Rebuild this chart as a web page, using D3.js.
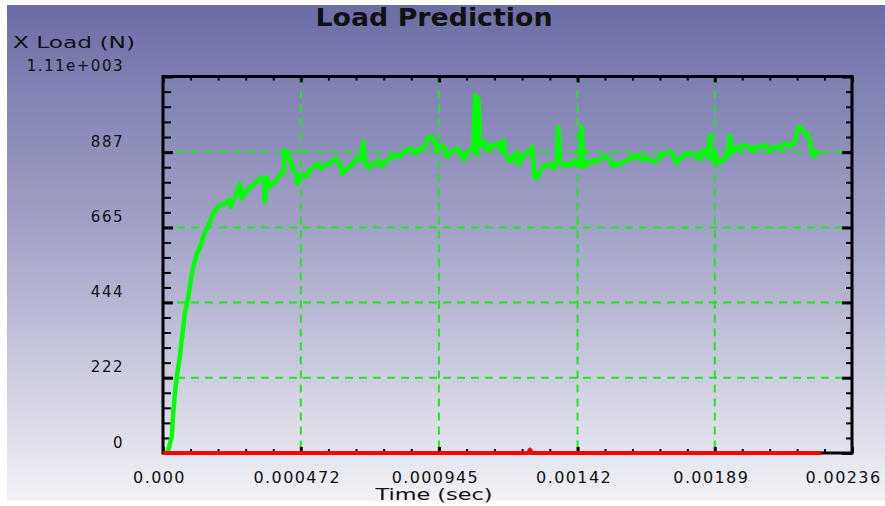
<!DOCTYPE html>
<html lang="en">
  <head>
    <meta charset="UTF-8" />
    <title>Load Prediction</title>
    <script src="https://d3js.org/d3.v7.min.js"></script>
    <style>
      body { margin: 0; background: #fff; }
      svg { display: block; }
      text { font-family: "DejaVu Sans", sans-serif; fill: #111; }
    </style>
  </head>
  <body>
    <svg id="chart" width="885" height="506"></svg>
    <script>
      // axis ticks
      const timeTicks = [0, 0.000472, 0.000945, 0.00142, 0.00189, 0.00236];
      const timeTickLabels = ["0.000", "0.000472", "0.000945", "0.00142", "0.00189", "0.00236"];
      const loadTicks = [0, 222, 444, 665, 887, 1110];
      const loadTickLabels = ["0", "222", "444", "665", "887", "1.11e+003"];

      // green series, time in microseconds, load in N
      const greenTimeUs = [15,30,35,41,47,58,64,75,87,95,104,115,127,138,150,161,172,184,195,212,224,232,241,252,264,270,281,292,304,315,326,338,346,349,355,366,384,401,414,416,429,441,452,460,469,481,492,503,521,532,544,555,572,583,595,606,615,629,640,652,663,675,686,692,703,715,726,737,749,760,777,795,812,823,835,852,863,874,886,897,909,920,932,939,949,966,972,983,1000,1011,1023,1031,1040,1051,1063,1069,1074,1080,1086,1103,1114,1126,1137,1148,1160,1166,1171,1188,1200,1211,1217,1229,1246,1257,1265,1272,1280,1291,1303,1314,1325,1337,1348,1354,1360,1377,1388,1400,1411,1428,1434,1440,1457,1474,1485,1503,1514,1531,1542,1554,1565,1577,1594,1605,1617,1628,1640,1657,1668,1679,1691,1702,1719,1736,1748,1759,1771,1788,1805,1822,1839,1851,1868,1873,1879,1891,1902,1919,1931,1942,1948,1965,1976,1988,2005,2016,2028,2045,2062,2079,2096,2113,2130,2147,2165,2176,2188,2199,2210,2216,2222,2230,2239,2250];
      const greenLoad = [0,48,117,176,225,284,333,412,461,510,549,584,608,638,662,682,707,721,731,736,746,726,746,766,795,751,766,780,785,795,805,813,800,741,810,785,800,820,829,893,878,849,829,795,815,824,815,834,844,854,839,849,854,864,867,849,824,839,844,854,869,864,918,859,839,849,854,864,844,859,869,878,874,888,893,898,883,893,898,903,932,932,918,893,908,898,874,883,893,898,878,864,883,893,903,1055,878,1045,903,918,893,908,903,913,893,923,883,859,874,888,849,869,888,883,903,815,810,829,844,849,854,839,854,962,859,844,854,849,864,844,962,844,854,864,859,869,874,864,844,854,849,859,864,874,869,878,864,874,864,859,864,874,883,888,878,854,869,878,883,878,864,893,874,937,864,883,854,864,874,937,883,903,898,908,903,893,903,898,908,893,903,898,913,903,918,962,957,942,937,913,893,874,888,888];

      // red series
      const redTimeUs = [0, 1250, 1257, 1264, 2255];
      const redLoad = [0, 0, 10, 0, 0];

      const svg = d3.select("#chart");
      const mLeft = 163, mRight = 852, mTop = 76.5, mBottom = 453;

      const x = d3.scaleLinear().domain([0, 0.00236]).range([mLeft, mRight]);
      const y = d3.scaleLinear().domain([0, 1110]).range([mBottom, mTop]);

      // background gradient
      const grad = svg.append("defs").append("linearGradient")
        .attr("id", "bg").attr("x1", 0).attr("y1", 0).attr("x2", 0).attr("y2", 1);
      grad.append("stop").attr("offset", "0%").attr("stop-color", "#6d6da7");
      grad.append("stop").attr("offset", "50%").attr("stop-color", "#a8a8ca");
      grad.append("stop").attr("offset", "100%").attr("stop-color", "#f2f2f6");
      svg.append("rect").attr("x", 7).attr("y", 5).attr("width", 878).attr("height", 496)
        .attr("fill", "url(#bg)");

      // grid
      const gridColor = "#1ee81e";
      svg.append("g").selectAll("line")
        .data(timeTicks.slice(1, -1)).join("line")
        .attr("x1", d => x(d)).attr("x2", d => x(d))
        .attr("y1", mTop).attr("y2", mBottom)
        .attr("stroke", gridColor).attr("stroke-width", 2).attr("stroke-dasharray", "8,6");
      svg.append("g").selectAll("line")
        .data(loadTicks.slice(1, -1)).join("line")
        .attr("x1", mLeft).attr("x2", mRight)
        .attr("y1", d => y(d)).attr("y2", d => y(d))
        .attr("stroke", gridColor).attr("stroke-width", 2).attr("stroke-dasharray", "8,6");

      // minor tick values
      const minorOf = (ticks) => {
        const out = [];
        for (let i = 0; i < ticks.length - 1; i++) {
          const step = (ticks[i + 1] - ticks[i]) / 5;
          for (let k = 1; k < 5; k++) out.push(ticks[i] + k * step);
        }
        return out;
      };
      const timeMinor = minorOf(timeTicks);
      const loadMinor = minorOf(loadTicks);

      function tickAxis(axis, tf, size, width, values, labels) {
        const g = svg.append("g").attr("transform", tf)
          .call(axis.tickValues(values).tickSize(-size)
            .tickFormat(labels ? (d, i) => labels[i] : ""));
        g.select(".domain").remove();
        g.selectAll(".tick line").attr("stroke", "#000").attr("stroke-width", width);
        return g;
      }

      // minor ticks
      tickAxis(d3.axisBottom(x), `translate(0,${mBottom})`, 4, 2, timeMinor, null);
      tickAxis(d3.axisTop(x), `translate(0,${mTop})`, 4, 2, timeMinor, null);
      tickAxis(d3.axisLeft(y), `translate(${mLeft},0)`, 8, 2, loadMinor, null);
      tickAxis(d3.axisRight(y), `translate(${mRight},0)`, 6, 2, loadMinor, null);

      // major ticks with labels
      const xb = tickAxis(d3.axisBottom(x), `translate(0,${mBottom})`, 6, 3, timeTicks, timeTickLabels);
      xb.selectAll("text")
        .attr("y", 30).attr("dy", 0).attr("dx", (d, i) => i === timeTicks.length - 1 ? -9 : -4)
        .style("font-size", "16px").style("letter-spacing", "1.4px")
        .attr("fill", "#111");
      tickAxis(d3.axisTop(x), `translate(0,${mTop})`, 6, 3, timeTicks, null);

      const yl = tickAxis(d3.axisLeft(y), `translate(${mLeft},0)`, 10, 3, loadTicks, loadTickLabels);
      yl.selectAll("text")
        .attr("x", -39).attr("dy", -6)
        .style("font-size", "15px").style("letter-spacing", "1.5px")
        .attr("fill", "#111");
      tickAxis(d3.axisRight(y), `translate(${mRight},0)`, 10, 3, loadTicks, null);
      svg.selectAll(".tick text").style("font-family", "DejaVu Sans");

      // frame
      svg.append("rect").attr("x", mLeft).attr("y", mTop)
        .attr("width", mRight - mLeft).attr("height", mBottom - mTop)
        .attr("fill", "none").attr("stroke", "#000").attr("stroke-width", 3);

      // series
      const line = d3.line().x(d => x(d[0] / 1e6)).y(d => y(d[1]));
      svg.append("path")
        .datum(greenTimeUs.map((t, i) => [t, greenLoad[i]]))
        .attr("d", line)
        .attr("fill", "none").attr("stroke", "#00ff00").attr("stroke-width", 4.5)
        .attr("stroke-linejoin", "round");
      svg.append("path")
        .datum(redTimeUs.map((t, i) => [t, redLoad[i]]))
        .attr("d", line)
        .attr("fill", "none").attr("stroke", "#ff0000").attr("stroke-width", 4)
        .attr("stroke-linejoin", "round");

      // titles
      svg.append("text").attr("x", 434).attr("y", 26)
        .attr("text-anchor", "middle").attr("textLength", 237)
        .attr("lengthAdjust", "spacingAndGlyphs")
        .style("font-size", "24px").style("font-weight", "bold")
        .text("Load Prediction");
      svg.append("text").attr("x", 13).attr("y", 48)
        .attr("textLength", 122).attr("lengthAdjust", "spacingAndGlyphs")
        .style("font-size", "16px")
        .text("X Load (N)");
      svg.append("text").attr("x", 434).attr("y", 500)
        .attr("text-anchor", "middle").attr("textLength", 117)
        .attr("lengthAdjust", "spacingAndGlyphs")
        .style("font-size", "16px")
        .text("Time (sec)");
    </script>
  </body>
</html>
